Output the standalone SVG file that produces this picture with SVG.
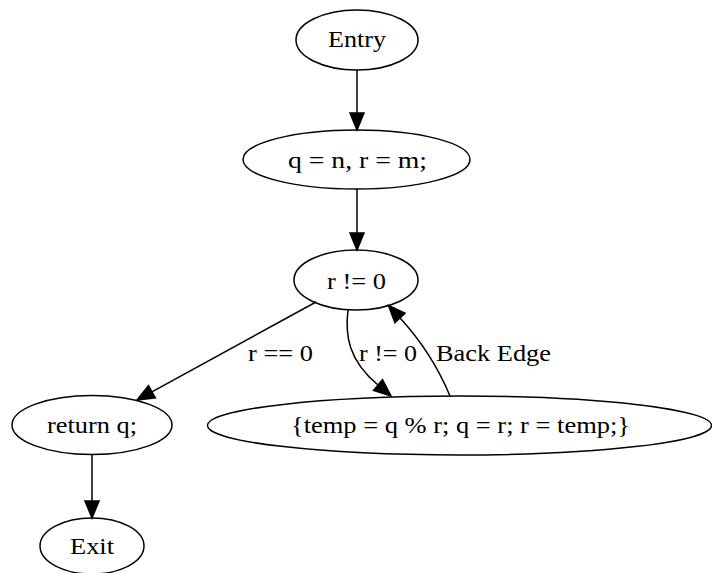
<svg xmlns="http://www.w3.org/2000/svg" width="712" height="573" viewBox="0 0 712 573">
<style>
.n ellipse{fill:none;stroke:#000;stroke-width:1.5}
text{font-family:"Liberation Serif","Times New Roman",serif;font-size:22.5px;fill:#000;text-anchor:middle}
.e path{fill:none;stroke:#000;stroke-width:1.5}
.e polygon{fill:#000;stroke:#000;stroke-width:1.5}
</style>
<rect width="712" height="573" fill="#fff"/>
<g id="entry" class="n"><ellipse cx="357" cy="40" rx="61" ry="30"/><text x="357" y="47" textLength="58" lengthAdjust="spacingAndGlyphs">Entry</text></g>
<g id="init" class="n"><ellipse cx="356.5" cy="159.5" rx="113.5" ry="29.5"/><text x="357.5" y="168" textLength="139" lengthAdjust="spacingAndGlyphs">q = n, r = m;</text></g>
<g id="cond" class="n"><ellipse cx="356" cy="280" rx="62" ry="30"/><text x="356.5" y="289" textLength="59" lengthAdjust="spacingAndGlyphs">r != 0</text></g>
<g id="ret" class="n"><ellipse cx="92" cy="425" rx="80" ry="29.5"/><text x="92" y="433" textLength="90" lengthAdjust="spacingAndGlyphs">return q;</text></g>
<g id="body" class="n"><ellipse cx="459.5" cy="425.5" rx="252" ry="29.5"/><text x="460.5" y="433" textLength="339" lengthAdjust="spacingAndGlyphs">{temp = q % r; q = r; r = temp;}</text></g>
<g id="exit" class="n"><ellipse cx="92" cy="546" rx="52" ry="28"/><text x="92" y="554" textLength="44" lengthAdjust="spacingAndGlyphs">Exit</text></g>
<g id="edges" class="e">
<path d="M357,70 L357,113"/><polygon points="350,113 364,113 357,130"/>
<path d="M357,189 L357,233"/><polygon points="350,233 364,233 357,250"/>
<path d="M316,302 L151.9,391.8"/><polygon points="155.3,397.9 148.5,385.7 137,400"/>
<path d="M348,310 C345,335 348,360 378,385"/><polygon points="373.5,390.4 382.5,379.6 391,396"/>
<path d="M450,396 C440,372 425,345 400,318"/><polygon points="405.1,313.2 394.9,322.8 388.5,305.5"/>
<path d="M92,454 L92,501"/><polygon points="85,501 99,501 92,518"/>
<text x="280.5" y="361" textLength="65" lengthAdjust="spacingAndGlyphs">r == 0</text>
<text x="388" y="361" textLength="58" lengthAdjust="spacingAndGlyphs">r != 0</text>
<text x="493.5" y="361" textLength="115" lengthAdjust="spacingAndGlyphs">Back Edge</text>
</g>
</svg>
